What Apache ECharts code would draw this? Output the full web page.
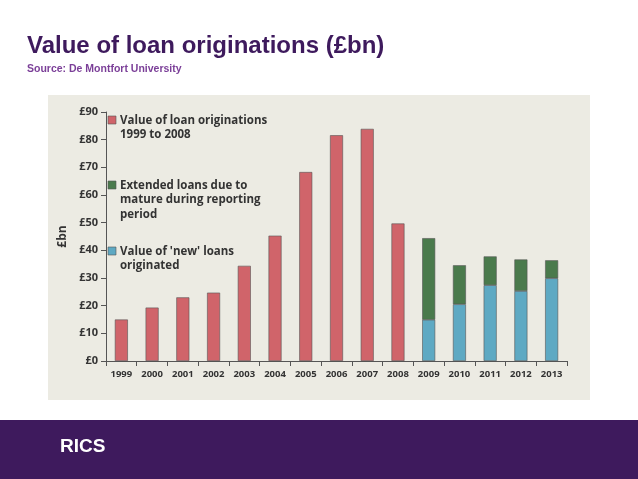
<!DOCTYPE html><html><head><meta charset="utf-8"><script src="https://cdn.jsdelivr.net/npm/echarts@6/dist/echarts.min.js"></script>
<style>body{margin:0;background:#fff}#c{width:638px;height:479px}</style></head><body><div id="c"></div><script>
const years=['1999','2000','2001','2002','2003','2004','2005','2006','2007','2008','2009','2010','2011','2012','2013'];
const origin=[15,19.3,23,24.7,34.4,45.3,68.3,81.6,83.9,49.7,null,null,null,null,null];
const newLoans=[null,null,null,null,null,null,null,null,null,null,14.9,20.5,27.4,25.3,29.9];
const extended=[null,null,null,null,null,null,null,null,null,null,29.5,14.1,10.4,11.4,6.5];
const yTicks=['£0','£10','£20','£30','£40','£50','£60','£70','£80','£90'];
const n1='Value of loan originations\n1999 to 2008',n2='Extended loans due to\nmature during reporting\nperiod',n3="Value of 'new' loans\noriginated";
const cols={o:'#d0646a',n:'#5ea9c3',e:'#4a7a4c'};
function lg(name,col,top){return [
{type:'rect',shape:{x:108,y:top+3,width:8,height:8},style:{fill:col,stroke:'#555',lineWidth:0.6}},
{type:'text',left:120,top:top,style:{text:name,font:'bold 11.5px "Open Sans"',fill:'#333',lineHeight:14.5}}];}
const ch=echarts.init(document.getElementById('c'));
ch.setOption({
graphic:[
{type:'rect',shape:{x:48,y:95,width:542,height:305},style:{fill:'#ecebe3'},z:-10},
{type:'rect',shape:{x:0,y:420,width:638,height:59},style:{fill:'#3e1a5d'}},
{type:'text',left:27,top:34,style:{text:'Value of loan originations (£bn)',font:'bold 24px Arial',fill:'#3e1a5d'}},
{type:'text',left:27,top:64,style:{text:'Source: De Montfort University',font:'bold 10.5px Arial',fill:'#7b3f98'}},
{type:'text',left:60,top:437,style:{text:'RICS',font:'bold 19px Arial',fill:'#fff'}},
...lg(n1,cols.o,113),...lg(n2,cols.e,178),...lg(n3,cols.n,244)
],
grid:{left:106,right:71,top:112,bottom:118},
xAxis:{type:'category',data:years,axisLine:{lineStyle:{color:'#555'}},axisTick:{show:true,lineStyle:{color:'#555'}},axisLabel:{fontFamily:'Open Sans',fontWeight:'bold',fontSize:9.5,color:'#333',interval:0}},
yAxis:{type:'value',min:0,max:90,interval:10,name:'£bn',nameLocation:'middle',nameGap:32,nameRotate:90,nameTextStyle:{fontFamily:'Open Sans',fontWeight:'bold',fontSize:12,color:'#333'},
axisLine:{show:true,lineStyle:{color:'#555'}},axisTick:{show:true,lineStyle:{color:'#555'}},splitLine:{show:false},
axisLabel:{fontFamily:'Open Sans',fontWeight:'bold',fontSize:11,color:'#333',formatter:v=>yTicks[v/10]}},
series:[
{name:n1,type:'bar',stack:'a',data:origin,barWidth:13,itemStyle:{color:cols.o,borderColor:'#555',borderWidth:0.6}},
{name:n3,type:'bar',stack:'a',data:newLoans,barWidth:13,itemStyle:{color:cols.n,borderColor:'#555',borderWidth:0.6}},
{name:n2,type:'bar',stack:'a',data:extended,barWidth:13,itemStyle:{color:cols.e,borderColor:'#555',borderWidth:0.6}}
]});
</script></body></html>
